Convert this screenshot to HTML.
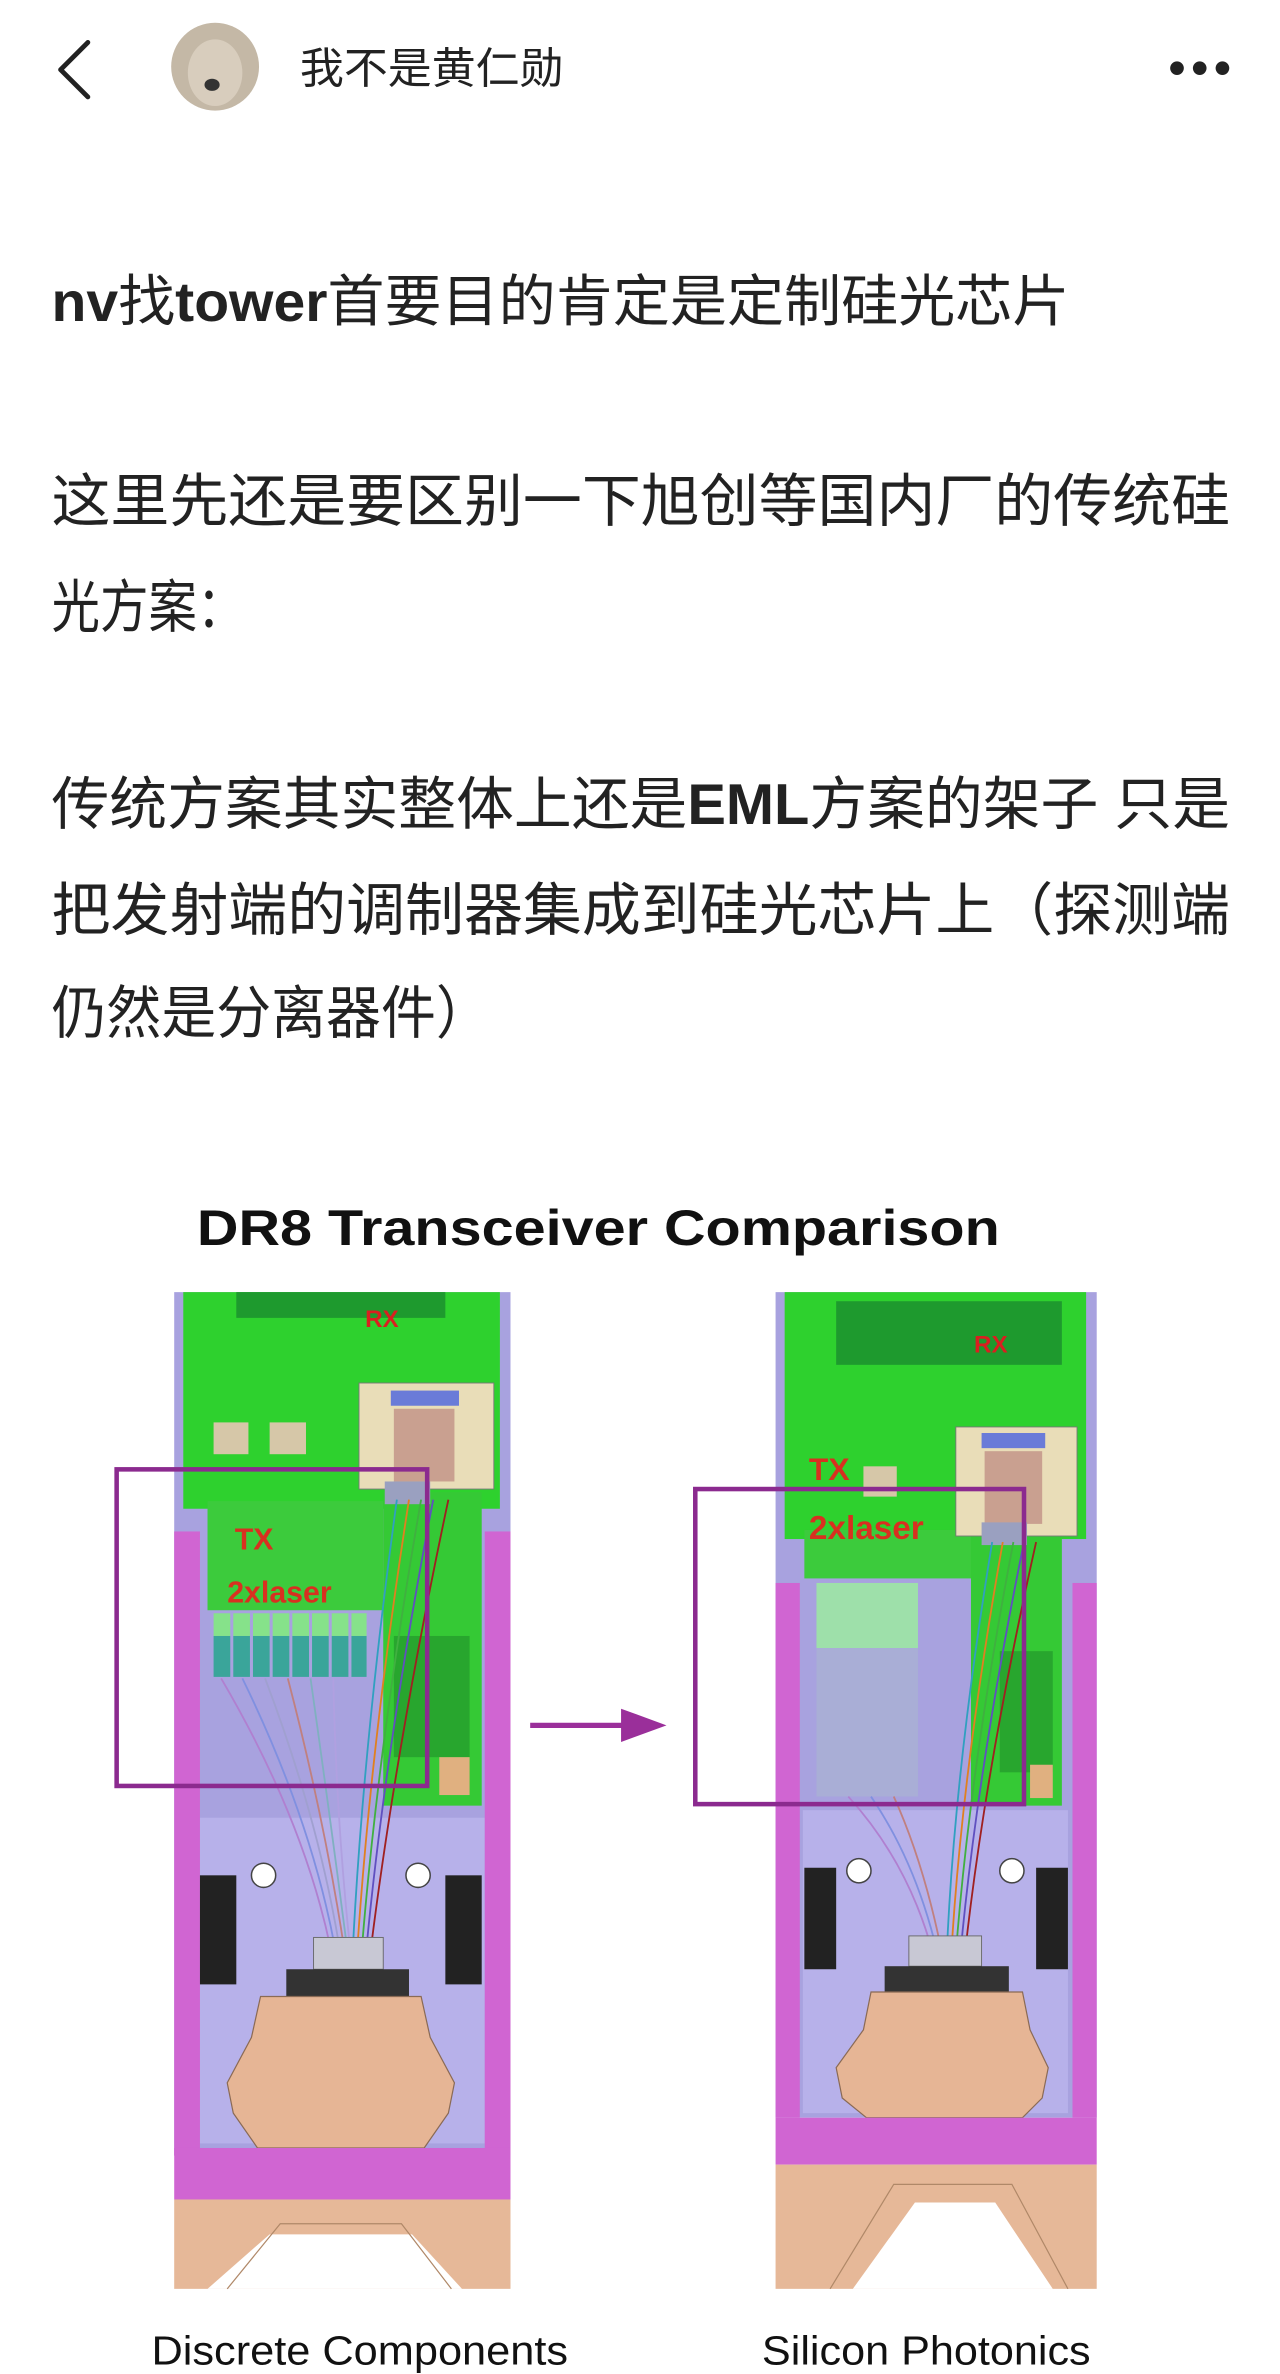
<!DOCTYPE html>
<html><head><meta charset="utf-8"><style>
html,body{margin:0;padding:0;background:#fff;}
svg{display:block;}
text{font-family:"Liberation Sans","Noto Sans CJK SC",sans-serif;}
</style></head><body>
<svg width="1280" height="2374" viewBox="0 0 845 1567.2" xmlns="http://www.w3.org/2000/svg">
<rect width="845" height="1568" fill="#fff"/>
<!-- header -->
<polyline points="58,28 40,46 58,64" fill="none" stroke="#222" stroke-width="3.2" stroke-linecap="round" stroke-linejoin="round"/>
<ellipse cx="142" cy="44" rx="29" ry="29" fill="#c4b8a6"/>
<ellipse cx="142" cy="48" rx="18" ry="22" fill="#d8cdbd"/>
<ellipse cx="140" cy="56" rx="5" ry="4" fill="#333"/>
<text x="198" y="55" font-size="28.5" fill="#222" textLength="174" lengthAdjust="spacingAndGlyphs">我不是黄仁勋</text>
<circle cx="777" cy="45" r="4.5" fill="#222"/><circle cx="792" cy="45" r="4.5" fill="#222"/><circle cx="807" cy="45" r="4.5" fill="#222"/>
<!-- title -->
<text x="34" y="212" font-size="37" fill="#222" textLength="672" lengthAdjust="spacingAndGlyphs"><tspan font-weight="bold">nv</tspan>找<tspan font-weight="bold">tower</tspan>首要目的肯定是定制硅光芯片</text>
<text x="34" y="344" font-size="38" fill="#222" textLength="778" lengthAdjust="spacingAndGlyphs">这里先还是要区别一下旭创等国内厂的传统硅</text>
<text x="34" y="414" font-size="38" fill="#222" textLength="128" lengthAdjust="spacingAndGlyphs">光方案：</text>
<text x="34" y="544" font-size="38" fill="#222" textLength="778" lengthAdjust="spacingAndGlyphs">传统方案其实整体上还是<tspan font-weight="bold">EML</tspan>方案的架子 只是</text>
<text x="34" y="614" font-size="38" fill="#222" textLength="778" lengthAdjust="spacingAndGlyphs">把发射端的调制器集成到硅光芯片上（探测端</text>
<text x="34" y="682" font-size="38" fill="#222" textLength="290" lengthAdjust="spacingAndGlyphs">仍然是分离器件）</text>
<!-- diagram title -->
<text x="130" y="822" font-size="33" font-weight="bold" fill="#111" textLength="530" lengthAdjust="spacingAndGlyphs">DR8 Transceiver Comparison</text>

<!-- LEFT DEVICE -->
<rect x="115" y="853" width="222" height="570" fill="#a8a2df"/>
<rect x="132" y="1200" width="188" height="215" fill="#b7b1ea"/>
<rect x="115" y="1011" width="17" height="412" fill="#d065d2"/>
<rect x="320" y="1011" width="17" height="412" fill="#d065d2"/>
<rect x="121" y="853" width="209" height="143" fill="#2ed12e"/>
<rect x="137" y="991" width="116" height="72" fill="#3ccb3c"/>
<rect x="253" y="985" width="65" height="207" fill="#35c935"/>
<rect x="260" y="1080" width="50" height="80" fill="#1f8f2a" opacity=".6"/>
<rect x="290" y="1160" width="20" height="25" fill="#e0b080"/>
<rect x="156" y="853" width="138" height="17" fill="#1e9a2e"/>
<text x="241" y="876" font-size="16" font-weight="bold" fill="#d82020">RX</text>
<rect x="141" y="939" width="23" height="21" fill="#d6c7a8"/>
<rect x="178" y="939" width="24" height="21" fill="#d6c7a8"/>
<rect x="237" y="913" width="89" height="70" fill="#e9ddb8" stroke="#777" stroke-width=".6"/>
<rect x="258" y="918" width="45" height="10" fill="#6a7bd8"/>
<rect x="260" y="930" width="40" height="48" fill="#c9a090"/>
<rect x="254" y="978" width="30" height="15" fill="#9aa0c0"/>
<g fill="#86e28a">
<rect x="141" y="1065" width="11" height="15"/><rect x="154" y="1065" width="11" height="15"/><rect x="167" y="1065" width="11" height="15"/><rect x="180" y="1065" width="11" height="15"/><rect x="193" y="1065" width="11" height="15"/><rect x="206" y="1065" width="11" height="15"/><rect x="219" y="1065" width="11" height="15"/><rect x="232" y="1065" width="10" height="15"/>
</g>
<g fill="#3aa59a">
<rect x="141" y="1080" width="11" height="27"/><rect x="154" y="1080" width="11" height="27"/><rect x="167" y="1080" width="11" height="27"/><rect x="180" y="1080" width="11" height="27"/><rect x="193" y="1080" width="11" height="27"/><rect x="206" y="1080" width="11" height="27"/><rect x="219" y="1080" width="11" height="27"/><rect x="232" y="1080" width="10" height="27"/>
</g>
<text x="155" y="1023" font-size="20" font-weight="bold" fill="#d83020">TX</text>
<text x="150" y="1058" font-size="20" font-weight="bold" fill="#d83020">2xlaser</text>
<g fill="none" stroke-width="1.2">
<path d="M146,1108 Q200,1200 218,1285" stroke="#b080d0"/>
<path d="M160,1108 Q205,1200 221,1285" stroke="#8090e0"/>
<path d="M175,1108 Q210,1200 224,1285" stroke="#a0a0d0"/>
<path d="M190,1108 Q214,1200 227,1285" stroke="#c08080"/>
<path d="M205,1108 Q218,1200 229,1285" stroke="#80b0c0"/>
<path d="M220,1108 Q222,1200 231,1285" stroke="#b0a0e0"/>
<path d="M262,990 Q240,1150 233,1285" stroke="#30a0c0"/>
<path d="M270,990 Q245,1150 236,1285" stroke="#e08020"/>
<path d="M278,990 Q250,1150 239,1285" stroke="#40b040"/>
<path d="M286,990 Q255,1150 242,1285" stroke="#6050c0"/>
<path d="M296,990 Q262,1150 245,1285" stroke="#a02020"/>
</g>
<rect x="132" y="1238" width="24" height="72" fill="#222"/>
<rect x="294" y="1238" width="24" height="72" fill="#222"/>
<circle cx="174" cy="1238" r="8" fill="#fff" stroke="#444"/>
<circle cx="276" cy="1238" r="8" fill="#fff" stroke="#444"/>
<rect x="207" y="1279" width="46" height="21" fill="#c8c8d4" stroke="#666" stroke-width=".6"/>
<rect x="189" y="1300" width="81" height="18" fill="#333"/>
<path d="M172,1318 L278,1318 L284,1345 L300,1375 L296,1395 L280,1418 L170,1418 L154,1395 L150,1375 L166,1345 Z" fill="#e6b595" stroke="#8a6a55" stroke-width=".8"/>
<rect x="115" y="1418" width="222" height="34" fill="#d065d2"/>
<rect x="115" y="1452" width="222" height="59" fill="#e6b898"/>
<polygon points="137,1511 178,1475 272,1475 305,1511" fill="#fff"/>
<polyline points="150,1511 185,1468 265,1468 298,1511" fill="none" stroke="#b08868" stroke-width=".8"/>

<!-- RIGHT DEVICE -->
<rect x="512" y="853" width="212" height="545" fill="#a8a2df"/>
<rect x="530" y="1195" width="175" height="200" fill="#b7b1ea"/>
<rect x="512" y="1045" width="16" height="353" fill="#d065d2"/>
<rect x="708" y="1045" width="16" height="353" fill="#d065d2"/>
<rect x="518" y="853" width="199" height="163" fill="#2ed12e"/>
<rect x="531" y="1010" width="116" height="32" fill="#3ccb3c"/>
<rect x="641" y="1010" width="60" height="182" fill="#35c935"/>
<rect x="660" y="1090" width="35" height="80" fill="#1f8f2a" opacity=".6"/>
<rect x="680" y="1165" width="15" height="22" fill="#e0b080"/>
<rect x="552" y="859" width="149" height="42" fill="#1e9a2e"/>
<text x="643" y="893" font-size="16" font-weight="bold" fill="#d82020">RX</text>
<rect x="570" y="968" width="22" height="20" fill="#d6c7a8"/>
<rect x="631" y="942" width="80" height="72" fill="#e9ddb8" stroke="#777" stroke-width=".6"/>
<rect x="648" y="946" width="42" height="10" fill="#6a7bd8"/>
<rect x="650" y="958" width="38" height="48" fill="#c9a090"/>
<rect x="648" y="1005" width="30" height="15" fill="#9aa0c0"/>
<text x="534" y="977" font-size="21" font-weight="bold" fill="#d83020">TX</text>
<text x="534" y="1016" font-size="22" font-weight="bold" fill="#d83020">2xlaser</text>
<rect x="539" y="1045" width="67" height="43" fill="#9ee0aa"/>
<rect x="539" y="1088" width="67" height="98" fill="#a9aed6"/>
<g fill="none" stroke-width="1.2">
<path d="M560,1186 Q600,1230 616,1290" stroke="#b080d0"/>
<path d="M575,1186 Q605,1230 619,1290" stroke="#8090e0"/>
<path d="M590,1186 Q610,1230 622,1290" stroke="#c08080"/>
<path d="M655,1018 Q630,1170 625,1290" stroke="#30a0c0"/>
<path d="M662,1018 Q635,1170 628,1290" stroke="#e08020"/>
<path d="M669,1018 Q640,1170 631,1290" stroke="#40b040"/>
<path d="M676,1018 Q645,1170 634,1290" stroke="#6050c0"/>
<path d="M684,1018 Q650,1170 637,1290" stroke="#a02020"/>
</g>
<rect x="531" y="1233" width="21" height="67" fill="#222"/>
<rect x="684" y="1233" width="21" height="67" fill="#222"/>
<circle cx="567" cy="1235" r="8" fill="#fff" stroke="#444"/>
<circle cx="668" cy="1235" r="8" fill="#fff" stroke="#444"/>
<rect x="600" y="1278" width="48" height="20" fill="#c8c8d4" stroke="#666" stroke-width=".6"/>
<rect x="584" y="1298" width="82" height="17" fill="#333"/>
<path d="M575,1315 L675,1315 L680,1340 L692,1365 L688,1385 L675,1398 L572,1398 L556,1385 L552,1365 L570,1340 Z" fill="#e6b595" stroke="#8a6a55" stroke-width=".8"/>
<rect x="512" y="1398" width="212" height="31" fill="#d065d2"/>
<rect x="512" y="1429" width="212" height="82" fill="#e6b898"/>
<polygon points="563,1511 604,1454 657,1454 695,1511" fill="#fff"/>
<polyline points="548,1511 590,1442 668,1442 705,1511" fill="none" stroke="#b08868" stroke-width=".8"/>

<!-- highlight boxes + arrow -->
<rect x="77" y="970" width="205" height="209" fill="none" stroke="#8b2a8f" stroke-width="3"/>
<rect x="459" y="983" width="217" height="208" fill="none" stroke="#8b2a8f" stroke-width="3"/>
<line x1="350" y1="1139" x2="415" y2="1139" stroke="#9a2f9a" stroke-width="3.5"/>
<polygon points="410,1128 440,1139 410,1150" fill="#9a2f9a"/>

<!-- labels -->
<text x="100" y="1561" font-size="27" fill="#111" textLength="275" lengthAdjust="spacingAndGlyphs">Discrete Components</text>
<text x="503" y="1561" font-size="27" fill="#111" textLength="217" lengthAdjust="spacingAndGlyphs">Silicon Photonics</text>
</svg>
</body></html>
